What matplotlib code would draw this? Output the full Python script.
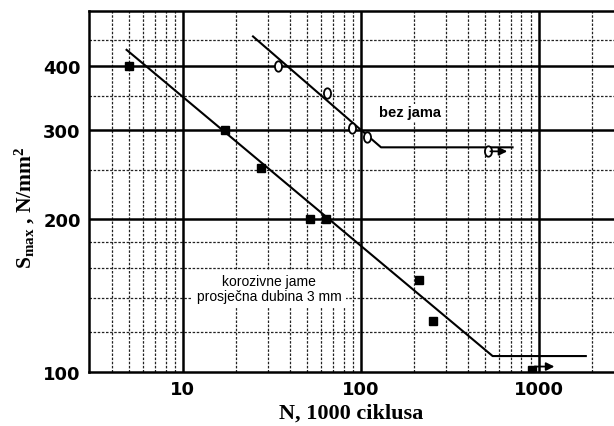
import numpy as np
import matplotlib
matplotlib.use("Agg")
import matplotlib.pyplot as plt
from matplotlib.path import Path

# Data (N in 1000 cycles, S_max in N/mm2)
# corrosion pits, mean depth 3 mm (filled squares)
pit_n = [5.0, 17.3, 27.5, 52, 64, 212, 255]
pit_s = [400, 300, 252, 200, 200, 152, 126]
pit_runout_n = [915]
pit_runout_s = [101]
pit_arrow_end = 1270

# no pits (open circles)
nopit_n = [34.3, 64.7, 89.6, 109]
nopit_s = [400, 354, 302, 290]
nopit_runout_n = [516]
nopit_runout_s = [272]
nopit_arrow_end = 690

# fitted lines
pit_line_n = [4.83, 551, 1840]
pit_line_s = [431, 107.5, 107.5]
nopit_line_n = [24.8, 130, 713]
nopit_line_s = [458, 277, 277]

y_ticks = [100, 200, 300, 400]
y_minor = [120, 140, 160, 180, 250, 350, 450]
x_ticks = [10, 100, 1000]
x_minor = [4, 5, 6, 7, 8, 9, 20, 30, 40, 50, 60, 70, 80, 90,
           200, 300, 400, 500, 600, 700, 800, 900, 2000]

plt.rcParams['mathtext.fontset'] = 'custom'
plt.rcParams['mathtext.rm'] = 'Liberation Serif:bold'
plt.rcParams['mathtext.it'] = 'Liberation Serif:bold'

# narrow oval marker like the scanned "0" circles
circ = Path.unit_circle()
oval = Path(circ.vertices * [0.68, 1.0], circ.codes)

fig = plt.figure(figsize=(6.14, 4.27), dpi=100)
ax = fig.add_axes([89 / 614, 54 / 427, (614 - 89) / 614, (373 - 12) / 427])
ax.set_xscale('log')
ax.set_yscale('log')
ax.set_xlim(2.97, 2650)
ax.set_ylim(100, 514)

# grid
for x in x_minor:
    ax.axvline(x, color='#222222', lw=0.9, ls=(0, (2, 1.3)), zorder=1)
for y in y_minor:
    ax.axhline(y, color='#222222', lw=0.9, ls=(0, (2, 1.3)), zorder=1)
for x in x_ticks:
    ax.axvline(x, color='black', lw=1.8, zorder=2)
for y in y_ticks[1:]:
    ax.axhline(y, color='black', lw=1.8, zorder=2)

# lines
ax.plot(pit_line_n, pit_line_s, color='black', lw=1.5, zorder=3)
ax.plot(nopit_line_n, nopit_line_s, color='black', lw=1.5, zorder=3)

# points
ax.plot(pit_n, pit_s, 's', color='black', ms=6, zorder=5)
ax.plot(pit_runout_n, pit_runout_s, 's', color='black', ms=6, zorder=5)
ax.plot(nopit_n, nopit_s, marker=oval, ls='none', mfc='white', mec='black', mew=1.3, ms=7.5, zorder=5)
ax.plot(nopit_runout_n, nopit_runout_s, marker=oval, ls='none', mfc='white', mec='black', mew=1.3, ms=7.5, zorder=5)

arrow = dict(arrowstyle='-|>', color='black', lw=1.3, mutation_scale=12)
ax.annotate('', xy=(pit_arrow_end, pit_runout_s[0] + 1.5),
            xytext=(pit_runout_n[0], pit_runout_s[0] + 1.5), arrowprops=arrow, zorder=6)
ax.annotate('', xy=(nopit_arrow_end, nopit_runout_s[0]),
            xytext=(nopit_runout_n[0], nopit_runout_s[0]), arrowprops=arrow, zorder=6)

# labels inside the plot
ax.text(188, 325, 'bez jama', fontsize=10.5, fontweight='bold', family='Liberation Sans',
        ha='center', va='center', zorder=1.5,
        bbox=dict(facecolor='white', edgecolor='none', pad=1))
ax.text(30.5, 146, 'korozivne jame\nprosječna dubina 3 mm', fontsize=10,
        family='Liberation Sans', ha='center', va='center', linespacing=1.15, zorder=1.5,
        bbox=dict(facecolor='white', edgecolor='none', pad=3))

# axes styling
ax.set_xticks(x_ticks)
ax.set_xticklabels(['10', '100', '1000'])
ax.set_yticks(y_ticks)
ax.set_yticklabels(['100', '200', '300', '400'])
ax.xaxis.set_minor_locator(matplotlib.ticker.NullLocator())
ax.yaxis.set_minor_locator(matplotlib.ticker.NullLocator())
ax.tick_params(length=0, labelsize=13, pad=6)
for lab in ax.get_xticklabels() + ax.get_yticklabels():
    lab.set_fontweight('bold')
    lab.set_family('DejaVu Sans')
for s in ['left', 'bottom', 'top']:
    ax.spines[s].set_linewidth(1.8)
ax.spines['right'].set_visible(False)

ax.set_xlabel('N, 1000 ciklusa', fontsize=16, fontweight='bold',
              family='Liberation Serif', labelpad=3)
fig.text(25 / 614, 1 - 208 / 427, r'S$_{\mathrm{max}}$ , N/mm$^{2}$', rotation=90,
         fontsize=15.5, fontweight='bold', family='Liberation Serif',
         ha='center', va='center')

fig.savefig('out.png', dpi=100)
